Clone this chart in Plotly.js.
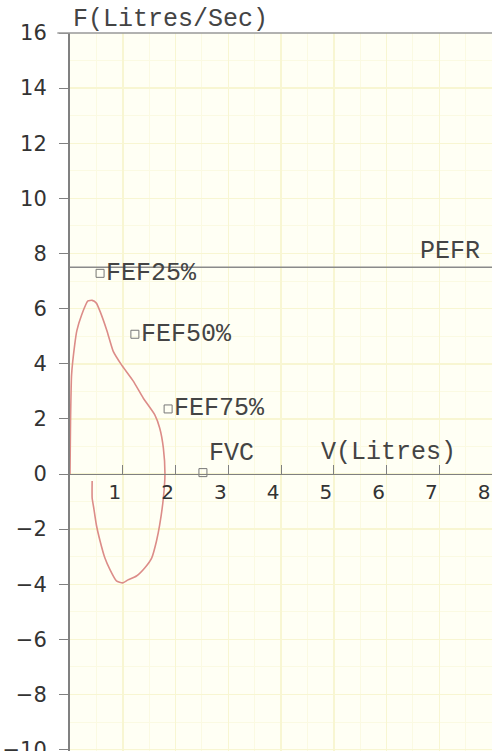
<!DOCTYPE html>
<html>
<head>
<meta charset="utf-8">
<script src="https://cdn.plot.ly/plotly-3.0.1.min.js"></script>
<style>html,body{margin:0;padding:0;background:#fff;}#chart{width:492px;height:751px;}</style>
</head>
<body>
<div id="chart"></div>
<script>
// Flow-volume loop (volume in litres, flow in litres/sec)
var loopVolume = [0, 0.01, 0.03, 0.09, 0.13, 0.22, 0.34, 0.42, 0.5, 0.57, 0.7, 0.82, 0.98, 1.2, 1.39, 1.61, 1.7, 1.77, 1.8,
                  1.77, 1.7, 1.64, 1.55, 1.42, 1.26, 1.1, 1.0, 0.88, 0.76, 0.66, 0.57, 0.5, 0.45, 0.42, 0.42];
var loopFlow   = [0, 1.9, 3.6, 4.7, 5.2, 5.77, 6.28, 6.3, 6.2, 5.9, 5.2, 4.45, 3.95, 3.37, 2.75, 2.14, 1.67, 0.94, 0,
                  -0.87, -1.85, -2.43, -3.04, -3.4, -3.7, -3.84, -3.95, -3.88, -3.48, -3.04, -2.43, -1.85, -1.23, -0.87, -0.25];

// Predicted reference points
var predLabels = ["FEF25%", "FEF50%", "FEF75%", "FVC"];
var predVolume = [0.57, 1.23, 1.86, 2.52];
var predFlow   = [7.28, 5.07, 2.36, 0.05];
var predTextPos = ["middle right", "middle right", "middle right", "top right"];

// Predicted PEFR
var pefrLabel = "PEFR";
var pefrFlow = 7.5;

// Axes
var xRange = [0, 8];
var yRange = [-10.05, 16];
var xTickVals = [1, 2, 3, 4, 5, 6, 7, 8];
var yTickVals = [-10, -8, -6, -4, -2, 0, 2, 4, 6, 8, 10, 12, 14, 16];
var xTitle = "V(Litres)";
var yTitle = "F(Litres/Sec)";

var mono = "Liberation Mono, Courier New, monospace";
var textCol = "#444";
var axisCol = "#808080";
var gridCol = "#f8f6d2";
var gridColMinor = "#fbfae2";

var traces = [
  {
    x: xRange, y: [pefrFlow, pefrFlow], mode: "lines",
    line: {color: "#8a8a8a", width: 1.5}, hoverinfo: "skip", showlegend: false
  },
  {
    x: loopVolume, y: loopFlow, mode: "lines",
    line: {color: "#dc8c88", width: 1.6, shape: "spline", smoothing: 0.45},
    showlegend: false
  },
  {
    x: predVolume, y: predFlow, mode: "markers+text",
    text: predLabels, textposition: predTextPos,
    textfont: {family: mono, size: 25, color: textCol},
    marker: {symbol: "square-open", size: 8, color: "#777", line: {width: 1}},
    cliponaxis: false, showlegend: false
  }
];

var layout = {
  width: 492, height: 751,
  margin: {l: 70, r: 0, t: 33, b: 0},
  paper_bgcolor: "#ffffff",
  plot_bgcolor: "#fffff4",
  showlegend: false,
  xaxis: {
    range: xRange, anchor: "free",
    position: (0 - yRange[0]) / (yRange[1] - yRange[0]),
    tickmode: "array", tickvals: xTickVals,
    ticks: "inside", ticklen: 9, tickcolor: axisCol, tickwidth: 1,
    ticklabelshift: -8, ticklabelstandoff: 0,
    showline: true, linecolor: axisCol, linewidth: 1.5,
    showgrid: true, gridcolor: gridCol, gridwidth: 1.5,
    minor: {dtick: 0.5, tick0: 0, showgrid: true, gridcolor: gridColMinor, gridwidth: 1, ticks: ""},
    zeroline: false,
    tickfont: {family: "DejaVu Sans, sans-serif", size: 20, color: "#333"},
    fixedrange: true
  },
  yaxis: {
    range: yRange,
    tickmode: "array", tickvals: yTickVals,
    ticks: "outside", ticklen: 9, tickcolor: axisCol, tickwidth: 1,
    ticklabelstandoff: 8, ticklabeloverflow: "allow",
    showline: true, linecolor: axisCol, linewidth: 2,
    showgrid: true, gridcolor: gridCol, gridwidth: 1.5,
    minor: {dtick: 1, showgrid: true, gridcolor: gridColMinor, gridwidth: 1, ticks: ""},
    zeroline: false,
    tickfont: {family: "DejaVu Sans, sans-serif", size: 21, color: "#333"},
    fixedrange: true
  },
  shapes: [
    {type: "line", xref: "paper", yref: "paper", x0: -0.03, x1: 1, y0: 1, y1: 1,
     line: {color: "#999", width: 1.5}}
  ],
  annotations: [
    {text: yTitle, xref: "paper", yref: "paper", x: 0, y: 1, xanchor: "left", yanchor: "bottom",
     xshift: 1, yshift: -3, showarrow: false, font: {family: mono, size: 25, color: textCol}},
    {text: xTitle, xref: "x", yref: "y", x: (xRange[0] + xRange[1]) * 0.75, y: 0, xanchor: "center", yanchor: "bottom",
     xshift: 2, yshift: 5, showarrow: false, font: {family: mono, size: 25, color: textCol}},
    {text: pefrLabel, xref: "x", yref: "y", x: xRange[1], y: pefrFlow, xanchor: "right", yanchor: "bottom",
     xshift: -10, yshift: -1, showarrow: false, font: {family: mono, size: 25, color: textCol}}
  ]
};

Plotly.newPlot("chart", traces, layout, {displayModeBar: false, staticPlot: true});
</script>
</body>
</html>
